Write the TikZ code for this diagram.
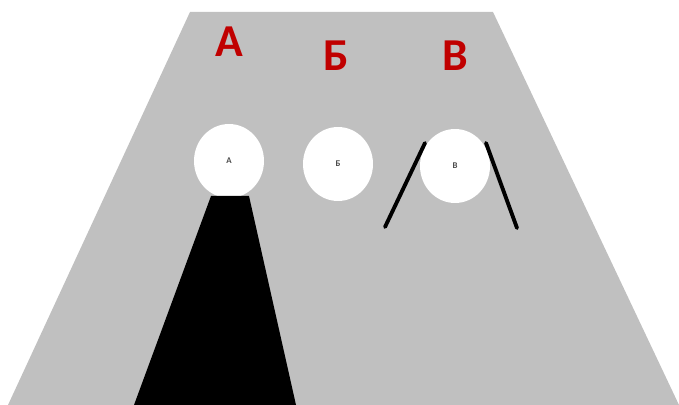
\documentclass[tikz,border=0pt]{standalone}
\usepackage{fontspec}
\setmainfont{Carlito}
\usepackage{xcolor}
\definecolor{SCREENgray}{HTML}{C0C0C0}
\definecolor{LABELred}{HTML}{C00000}
\usetikzlibrary{shapes.geometric, positioning}

\begin{document}
\begin{tikzpicture}[
  x=0.02cm, y=-0.02cm,
  hole/.style={ellipse, fill=white, minimum width=1.4cm, minimum height=1.48cm,
    inner sep=0pt, font=\fontsize{5}{5}\selectfont\bfseries, text=black!70},
  letter/.style={font=\fontsize{26}{26}\selectfont\bfseries, text=LABELred},
  rod/.style={line width=2.2pt, line cap=round}
]
\useasboundingbox (0,0) rectangle (679,405);
% screen
\fill[SCREENgray] (190,12) -- (493,12) -- (679,405) -- (8,405) -- cycle;
% labels
\node[letter] (labA) at (229,42) {А};
\node[letter] (labB) at (336,56) {Б};
\node[letter] (labV) at (455,56) {В};
% holes
\node[hole] (holeA) at (229,161) {А};
\node[hole] (holeB) at (338,164) {Б};
\node[hole] (holeV) at (455,166) {В};
% shadow under A
\fill (211,196) -- (249,196) -- (296,405) -- (134,405) -- cycle;
% rods at В
\coordinate (rodLtop) at (425,143);
\coordinate (rodLbot) at (385,227);
\coordinate (rodRtop) at (486,143);
\coordinate (rodRbot) at (517,228);
\draw[rod] (rodLtop) -- (rodLbot);
\draw[rod] (rodRtop) -- (rodRbot);
\end{tikzpicture}
\end{document}
